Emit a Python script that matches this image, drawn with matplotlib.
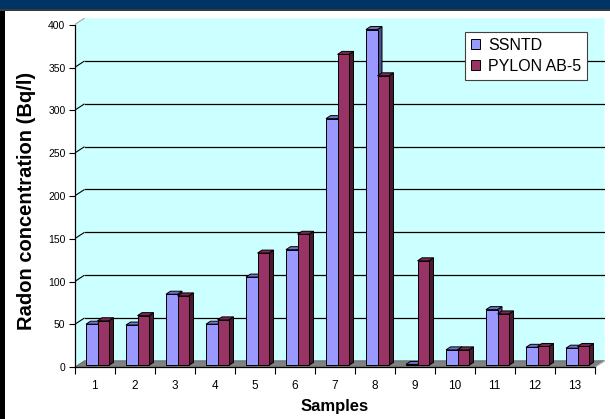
import matplotlib
matplotlib.use("Agg")
import matplotlib.pyplot as plt
from matplotlib.patches import Polygon, Rectangle, Patch

# Radon concentration per sample, two measurement methods
samples = ["1", "2", "3", "4", "5", "6", "7", "8", "9", "10", "11", "12", "13"]
ssntd = [48, 47, 83, 48, 103, 135, 288, 392, 1, 18, 65, 21, 20]
pylon = [52, 58, 81, 53, 131, 153, 363, 338, 122, 18, 60, 22, 22]
series_names = ["SSNTD", "PYLON AB-5"]
y_ticks = list(range(0, 401, 50))

plt.rcParams["font.family"] = ["Liberation Sans", "DejaVu Sans"]

W, H = 610, 419
fig = plt.figure(figsize=(W / 100, H / 100), dpi=100)
fig.patch.set_facecolor("white")

# frame decorations: navy header band and dark left border
fig.patches.append(Rectangle((0, 1 - 9.5 / H), 1, 9.5 / H, transform=fig.transFigure,
                             facecolor="#003366", edgecolor="none", zorder=0))
fig.patches.append(Rectangle((0, 1 - 11 / H), 1, 1.5 / H, transform=fig.transFigure,
                             facecolor="#3a3a3a", edgecolor="none", zorder=0))
fig.patches.append(Rectangle((0, 0), 5 / W, 1 - 11 / H, transform=fig.transFigure,
                             facecolor="black", edgecolor="none", zorder=0))

# axes: front plane from x=74.5px, zero at y=367.3px; back wall reaches y=18px
x0, x1 = 74.5, 604.5
y0, ytop = 367.3, 18.0
ax = fig.add_axes([x0 / W, (H - y0) / H, (x1 - x0) / W, (y0 - ytop) / H])
ax.set_facecolor("none")

n = len(samples)
px_per_val = (y0 - 24.7) / 400.0
DX = 10 / 40.0                # depth offset, category units
DY = 6.5 / px_per_val         # depth offset, value units
ax.set_xlim(0, n + DX)
ax.set_ylim(0, (y0 - ytop) / px_per_val)

wall = "#CCFFFF"
ax.add_patch(Polygon([(0, 0), (0, 400), (DX, 400 + DY), (n + DX, 400 + DY),
                      (n + DX, DY), (n, 0)], closed=True, facecolor=wall,
                     edgecolor="none", zorder=0))
# floor
ax.add_patch(Polygon([(0, 0), (n, 0), (n + DX, DY), (DX, DY)], closed=True,
                     facecolor="#808080", edgecolor="#606060", lw=0.6, zorder=1))

# gridlines on the back wall with connectors to the front axis
for v in y_ticks[1:]:
    col = "black" if v < 400 else "#9aa8a8"
    ax.plot([0, DX], [v, v + DY], color=col, lw=0.8, zorder=1, solid_capstyle="butt")
    if v < 400:
        ax.plot([DX, n + DX], [v + DY, v + DY], color="black", lw=0.9, zorder=1)
ax.plot([n, n + DX], [0, DY], color="#b0b0b0", lw=0.8, zorder=1)

# 3D columns
bw = 11.5 / 40.0              # bar width
bx, by = 3 / 40.0, 2.0 / px_per_val   # bar plane offset into the depth
sdx, sdy = 4.5 / 40.0, 3.0 / px_per_val  # bar depth
faces = [("#9999FF", "#7272CC", "#4D4D8C"), ("#993366", "#7A2952", "#4A1830")]
for i in range(n):
    c = i + 0.5
    for k, vals in enumerate([ssntd, pylon]):
        v = vals[i]
        left = c - bw + k * bw + bx
        right = left + bw
        base = by
        top = by + v
        front_c, top_c, side_c = faces[k]
        z = 3 + k * 0.1
        ax.add_patch(Polygon([(right, base), (right + sdx, base + sdy),
                              (right + sdx, top + sdy), (right, top)], closed=True,
                             facecolor=side_c, edgecolor="black", lw=0.7, zorder=z))
        ax.add_patch(Polygon([(left, top), (left + sdx, top + sdy),
                              (right + sdx, top + sdy), (right, top)], closed=True,
                             facecolor=top_c, edgecolor="black", lw=0.7, zorder=z))
        ax.add_patch(Rectangle((left, base), bw, v, facecolor=front_c,
                               edgecolor="black", lw=0.7, zorder=z + 0.05))

# axes lines and ticks
for s in ["top", "right"]:
    ax.spines[s].set_visible(False)
ax.spines["left"].set_bounds(0, 400)
ax.spines["bottom"].set_bounds(0, n)
for s in ["left", "bottom"]:
    ax.spines[s].set_linewidth(0.9)
    ax.spines[s].set_zorder(5)
ax.set_yticks(y_ticks)
ax.set_yticklabels([str(v) for v in y_ticks])
ax.tick_params(axis="y", length=4, width=0.8, pad=2.5, labelsize=7.5, direction="out")
ax.set_xticks(range(n + 1))
ax.set_xticklabels([""] * (n + 1))
ax.set_xticks([i + 0.5 for i in range(n)], minor=True)
ax.set_xticklabels(samples, minor=True)
ax.tick_params(axis="x", which="major", length=5, width=0.8, direction="out")
ax.tick_params(axis="x", which="minor", length=0, pad=9.5, labelsize=8.5)

fig.text(335 / W, 1 - 406 / H, "Samples", ha="center", va="center",
         fontsize=12, fontweight="bold")
fig.text(27 / W, 1 - 201 / H, "Radon concentration (Bq/l)", ha="center", va="center",
         rotation=90, fontsize=14.5, fontweight="bold")

handles = [Patch(facecolor=faces[0][0], edgecolor="black", lw=0.7),
           Patch(facecolor=faces[1][0], edgecolor="black", lw=0.7)]
leg = fig.legend(handles, series_names, loc="upper right",
                 bbox_to_anchor=(587 / W, 1 - 32 / H), fontsize=11.5,
                 frameon=True, fancybox=False, shadow=False, framealpha=1,
                 edgecolor="#404040", handlelength=0.6, handleheight=0.6,
                 handletextpad=0.5, labelspacing=0.4, borderpad=0.35,
                 borderaxespad=0)
leg.get_frame().set_linewidth(0.8)

fig.savefig("out.png", dpi=100)
